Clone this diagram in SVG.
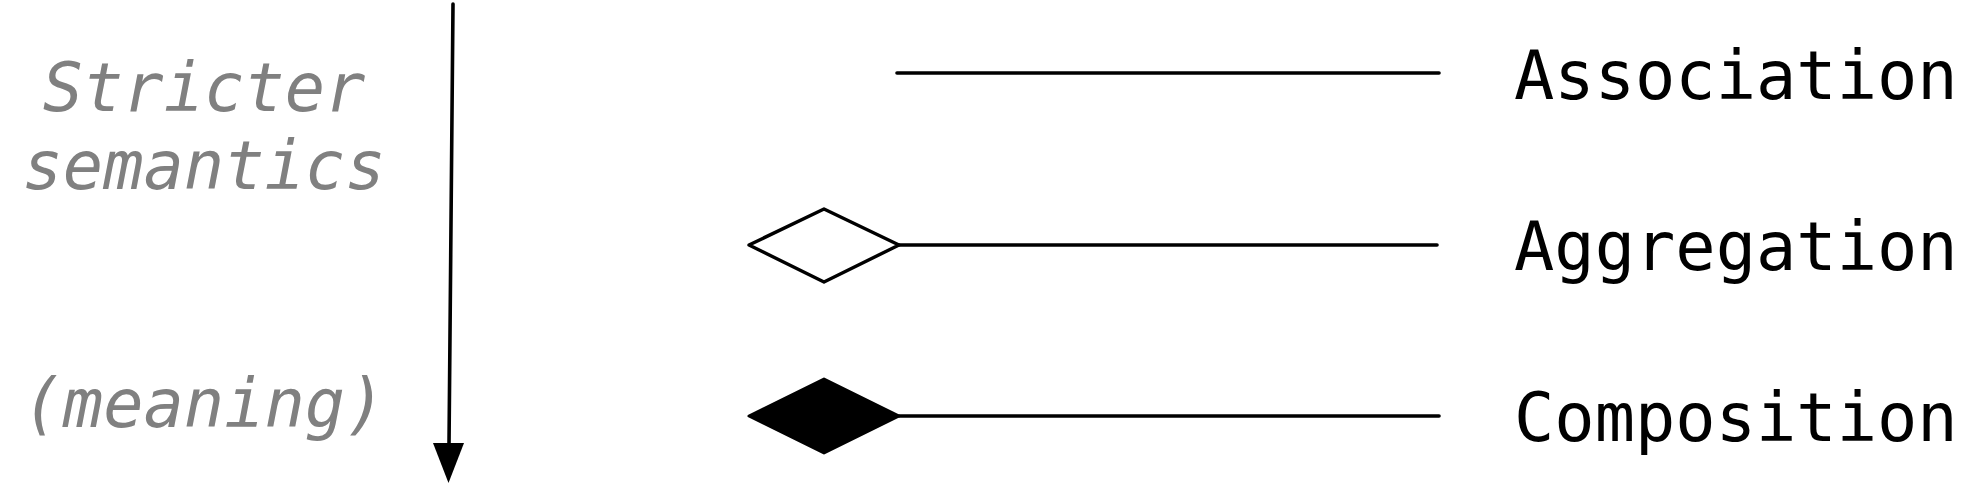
<svg xmlns="http://www.w3.org/2000/svg" width="1979" height="491" viewBox="0 0 1979 491">
<style>
.lbl{font-family:"DejaVu Sans Mono","Liberation Mono",monospace;font-size:67px;fill:#000}
.side{font-family:"DejaVu Sans Mono","Liberation Mono",monospace;font-size:67px;font-style:italic;fill:#808080;text-anchor:middle}
.ln{stroke:#000;stroke-width:3.6;stroke-linecap:round;fill:none}
</style>
<rect width="1979" height="491" fill="#fff"/>
<g id="legend-text">
<text class="side" x="204" y="111">Stricter</text>
<text class="side" x="204" y="189">semantics</text>
<text class="side" x="204" y="427">(meaning)</text>
</g>
<g id="connectors">
<line class="ln" x1="453" y1="4" x2="449" y2="445"/>
<polygon points="433,443 464,443 448.5,483" fill="#000"/>
<line class="ln" x1="897" y1="73" x2="1439" y2="73"/>
<line class="ln" x1="899" y1="245" x2="1437" y2="245"/>
<line class="ln" x1="899" y1="416" x2="1439" y2="416"/>
</g>
<g id="aggregation-diamond">
<polygon points="749,245 824,209 899,245 824,282" fill="#fff" stroke="#000" stroke-width="3.4" stroke-linejoin="round"/>
</g>
<g id="composition-diamond">
<polygon points="749,416 824,379 899,416 824,453" fill="#000" stroke="#000" stroke-width="3" stroke-linejoin="round"/>
</g>
<g id="association">
<text class="lbl" x="1514" y="99">Association</text>
</g>
<g id="aggregation">
<text class="lbl" x="1514" y="270">Aggregation</text>
</g>
<g id="composition">
<text class="lbl" x="1514" y="441">Composition</text>
</g>
</svg>
